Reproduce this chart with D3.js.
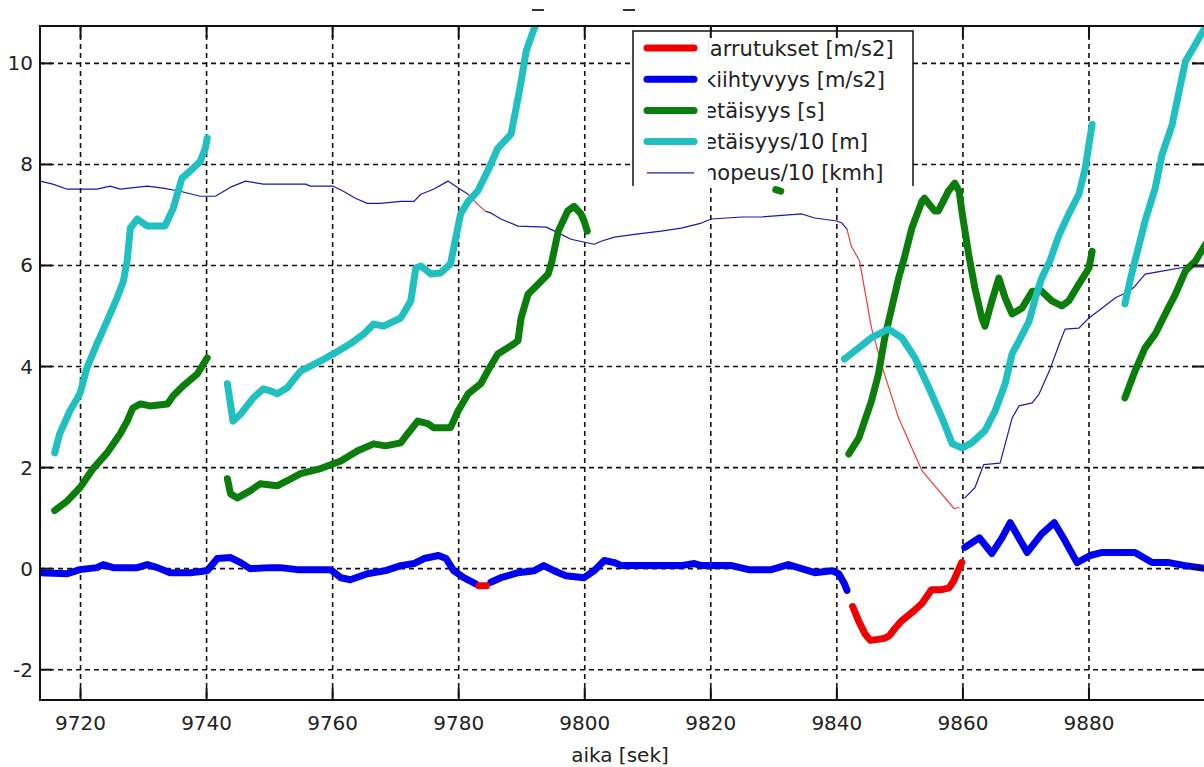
<!DOCTYPE html>
<html>
<head>
  <meta charset="utf-8">
  <title>Jarrutukset ja kiihtyvyys</title>
  <script src="https://d3js.org/d3.v7.min.js"></script>
  <style>
    body { margin: 0; background: #fff; }
    text { font-family: "DejaVu Sans", sans-serif; fill: #222; }
  </style>
</head>
<body>
  <script>
    // tick values
    const xTicks = [9720, 9740, 9760, 9780, 9800, 9820, 9840, 9860, 9880];
    const yTicks = [-2, 0, 2, 4, 6, 8, 10];

    const legendLabels = ['jarrutukset [m/s2]', 'kiihtyvyys [m/s2]', 'etäisyys [s]', 'etäisyys/10 [m]', 'nopeus/10 [kmh]'];

    // jarrutukset [m/s2] (thick red), one array per piece
    const jarrutukset = [
      [[9783.2, -0.34], [9784.4, -0.34]],
      [[9842.5, -0.75], [9843.5, -1.05], [9844.5, -1.3], [9845.3, -1.42], [9846.5, -1.4], [9847.5, -1.38],
       [9848.3, -1.33], [9849.3, -1.17], [9850.3, -1.03], [9852, -0.86], [9853.5, -0.69], [9855, -0.42],
       [9856.5, -0.42], [9857.8, -0.38], [9858.5, -0.25], [9859.2, -0.05], [9859.8, 0.12]]
    ];

    // kiihtyvyys [m/s2] (thick blue)
    const kiihtyvyys = [
      [[9713.6, -0.08], [9717.9, -0.1], [9719.9, -0.02], [9722.6, 0.02], [9723.6, 0.08], [9725.2, 0.02],
       [9729.0, 0.02], [9730.6, 0.08], [9732.2, 0.02], [9734.2, -0.08], [9737.4, -0.08], [9740.1, -0.04],
       [9741.7, 0.2], [9743.8, 0.22], [9745.4, 0.12], [9746.9, 0.0], [9750.1, 0.02], [9751.7, 0.02],
       [9754.4, -0.02], [9759.7, -0.02], [9761.3, -0.18], [9762.8, -0.22], [9765.5, -0.1], [9768.4, -0.04],
       [9770.8, 0.06], [9772.9, 0.1], [9774.5, 0.2], [9776.8, 0.26], [9778.0, 0.2], [9779.2, -0.04],
       [9780.8, -0.18], [9782.7, -0.3]],
      [[9785.1, -0.27], [9786.7, -0.18], [9789.4, -0.08], [9792.0, -0.04], [9793.5, 0.06], [9795.1, -0.04],
       [9797.0, -0.14], [9799.9, -0.18], [9801.5, -0.04], [9803.1, 0.16], [9804.7, 0.12], [9805.8, 0.06],
       [9815.3, 0.06], [9817.4, 0.1], [9818.5, 0.06], [9823.3, 0.06], [9826.0, -0.02], [9829.6, -0.02],
       [9832.3, 0.08], [9834.4, 0.0], [9836.5, -0.08], [9839.2, -0.04], [9840.3, -0.1], [9841.2, -0.3],
       [9841.6, -0.43]],
      [[9860.3, 0.42], [9862.6, 0.61], [9864.6, 0.3], [9866.2, 0.61], [9867.5, 0.91], [9870.2, 0.32],
       [9872.5, 0.69], [9874.5, 0.91], [9876.2, 0.55], [9878.1, 0.12], [9880.2, 0.26], [9882.1, 0.32],
       [9884.2, 0.32], [9887.3, 0.32], [9890.0, 0.12], [9892.7, 0.12], [9895.3, 0.06], [9898.6, 0.0]]
    ];

    // etäisyys [s] (thick green)
    const etaisyys = [
      [[9715.9, 1.15], [9717.9, 1.34], [9719.9, 1.6], [9722.0, 1.98], [9724.2, 2.29], [9726.3, 2.67],
       [9727.4, 2.92], [9728.3, 3.18], [9729.5, 3.26], [9731.0, 3.22], [9733.8, 3.26], [9734.7, 3.42],
       [9736.3, 3.62], [9738.5, 3.85], [9739.5, 4.05], [9740.1, 4.17]],
      [[9743.3, 1.78], [9743.8, 1.48], [9744.9, 1.4], [9746.9, 1.54], [9748.5, 1.68], [9751.2, 1.64],
       [9752.8, 1.74], [9754.9, 1.88], [9758.1, 1.98], [9761.3, 2.13], [9763.9, 2.33], [9766.5, 2.47],
       [9768.4, 2.43], [9770.8, 2.49], [9771.9, 2.67], [9773.5, 2.92], [9775.1, 2.87], [9776.0, 2.79],
       [9778.7, 2.79], [9779.9, 3.12], [9781.5, 3.46], [9783.5, 3.66], [9784.6, 3.91], [9786.2, 4.25],
       [9788.3, 4.41], [9789.4, 4.51], [9789.9, 4.96], [9791.0, 5.43], [9792.6, 5.63], [9794.2, 5.83],
       [9794.8, 6.09], [9795.8, 6.68], [9797.3, 7.08], [9798.3, 7.17], [9799.4, 7.02], [9799.9, 6.88],
       [9800.4, 6.68]],
      [[9830.3, 7.5], [9831.1, 7.47]],
      [[9841.9, 2.27], [9843.5, 2.59], [9844.4, 2.92], [9845.5, 3.32], [9846.6, 3.85], [9847.6, 4.57],
       [9848.7, 5.16], [9849.8, 5.75], [9850.7, 6.15], [9851.9, 6.74], [9853.5, 7.27], [9853.9, 7.33],
       [9855.5, 7.08], [9856.1, 7.08], [9857.7, 7.47], [9858.7, 7.63], [9859.4, 7.47], [9859.9, 7.02],
       [9860.9, 6.23], [9861.9, 5.55], [9863.0, 4.96], [9863.5, 4.8], [9864.6, 5.3], [9865.7, 5.75],
       [9866.7, 5.36], [9867.8, 5.04], [9869.4, 5.16], [9871.0, 5.49], [9872.5, 5.49], [9874.1, 5.3],
       [9875.7, 5.2], [9876.8, 5.3], [9878.4, 5.63], [9880.0, 5.95], [9880.5, 6.28]],
      [[9885.7, 3.38], [9887.3, 3.91], [9888.9, 4.37], [9890.5, 4.64], [9892.1, 5.04], [9893.7, 5.43],
       [9895.3, 5.89], [9896.9, 6.09], [9898.6, 6.44]]
    ];

    // etäisyys/10 [m] (thick cyan)
    const etaisyys10 = [
      [[9715.9, 2.29], [9716.7, 2.67], [9718.3, 3.12], [9719.9, 3.46], [9721.0, 3.97], [9722.6, 4.45],
       [9724.2, 4.9], [9725.8, 5.36], [9726.8, 5.69], [9727.4, 6.09], [9727.9, 6.74], [9729.0, 6.92],
       [9730.6, 6.78], [9733.4, 6.78], [9734.7, 7.13], [9736.1, 7.73], [9737.4, 7.87], [9739.0, 8.06],
       [9739.8, 8.32], [9740.1, 8.52]],
      [[9743.3, 3.66], [9744.2, 2.92], [9745.4, 3.06], [9747.4, 3.38], [9749.0, 3.56], [9750.1, 3.52],
       [9751.2, 3.46], [9752.8, 3.58], [9754.9, 3.91], [9758.1, 4.11], [9760.1, 4.25], [9762.8, 4.45],
       [9764.9, 4.64], [9766.5, 4.84], [9768.1, 4.8], [9770.8, 4.96], [9772.4, 5.3], [9773.2, 5.95],
       [9774.0, 5.99], [9775.6, 5.83], [9777.1, 5.85], [9778.7, 6.03], [9780.3, 7.02], [9781.5, 7.27],
       [9783.0, 7.47], [9784.6, 7.87], [9786.2, 8.32], [9788.3, 8.6], [9789.1, 9.11], [9789.9, 9.64],
       [9790.7, 10.24], [9791.8, 10.63], [9792.5, 10.85]],
      [[9841.2, 4.15], [9843.5, 4.37], [9845.5, 4.57], [9848.2, 4.74], [9850.3, 4.57], [9852.4, 4.17],
       [9854.6, 3.58], [9856.7, 2.98], [9858.3, 2.47], [9859.9, 2.39], [9861.4, 2.49], [9863.5, 2.73],
       [9865.1, 3.12], [9866.7, 3.66], [9867.8, 4.25], [9868.9, 4.51], [9870.5, 4.9], [9871.5, 5.36],
       [9872.5, 5.75], [9873.8, 6.09], [9875.3, 6.62], [9876.8, 7.02], [9878.4, 7.41], [9879.4, 7.92],
       [9880.0, 8.4], [9880.5, 8.79]],
      [[9885.7, 5.24], [9886.5, 5.69], [9887.3, 6.09], [9888.9, 6.88], [9890.5, 7.53], [9891.6, 8.2],
       [9893.2, 8.79], [9894.3, 9.45], [9895.3, 10.04], [9896.9, 10.38], [9898.6, 10.75]]
    ];

    // nopeus/10 [kmh] (thin), blue while driving, red while braking
    const nopeusAjo = [
      [[9713.6, 7.67], [9715.6, 7.61], [9717.9, 7.51], [9720.4, 7.51], [9722.6, 7.51], [9724.7, 7.57],
       [9726.3, 7.51], [9730.6, 7.57], [9733.1, 7.53], [9735.8, 7.47], [9739.0, 7.37], [9741.4, 7.37],
       [9743.8, 7.55], [9746.2, 7.67], [9749.0, 7.61], [9755.7, 7.61], [9756.5, 7.57], [9760.1, 7.57],
       [9761.7, 7.47], [9763.6, 7.33], [9765.5, 7.23], [9767.6, 7.23], [9770.8, 7.27], [9772.9, 7.27],
       [9774.0, 7.41], [9776.0, 7.51], [9778.3, 7.67], [9780.0, 7.53], [9781.5, 7.41]],
      [[9784.3, 7.07], [9785.1, 7.04], [9786.7, 6.92], [9789.4, 6.78], [9793.9, 6.76], [9796.2, 6.62],
       [9797.8, 6.52], [9801.5, 6.42], [9802.6, 6.48], [9804.7, 6.56], [9808.2, 6.62], [9812.1, 6.68],
       [9815.3, 6.74], [9818.5, 6.84], [9820.1, 6.92], [9824.9, 6.96], [9828.0, 6.96], [9834.4, 7.02],
       [9836.5, 6.94], [9840.0, 6.88], [9840.8, 6.84], [9841.6, 6.72]],
      [[9860.3, 1.4], [9861.9, 1.6], [9863.3, 2.06], [9865.9, 2.09], [9867.8, 2.98], [9868.9, 3.22],
       [9871.0, 3.28], [9872.1, 3.46], [9873.7, 3.91], [9875.3, 4.45], [9876.2, 4.74], [9878.4, 4.76],
       [9880.0, 4.96], [9882.1, 5.16], [9884.2, 5.36], [9886.4, 5.49], [9887.3, 5.59], [9888.9, 5.83],
       [9891.6, 5.89], [9895.3, 5.97], [9898.6, 5.97]]
    ];
    const nopeusJarru = [
      [[9781.5, 7.41], [9783.0, 7.21], [9784.3, 7.07]],
      [[9841.6, 6.72], [9842.3, 6.38], [9843.6, 6.09], [9845.5, 4.76], [9847.4, 3.91], [9849.8, 2.98],
       [9851.9, 2.39], [9853.5, 1.94], [9856.2, 1.54], [9858.6, 1.19], [9859.4, 1.21]]
    ];

    const width = 1204;
    const height = 767;

    const svg = d3.select('body').append('svg')
      .attr('width', width)
      .attr('height', height);

    svg.append('rect').attr('width', width).attr('height', height).attr('fill', '#fff');

    const x = d3.scaleLinear().domain([9713.57, 9898.41]).range([40, 1205]);
    const y = d3.scaleLinear().domain([-2.60, 10.74]).range([700, 26]);

    svg.append('clipPath').attr('id', 'plotArea')
      .append('rect')
      .attr('x', 40).attr('y', 26)
      .attr('width', 1165).attr('height', 674);

    // grid
    const grid = svg.append('g').attr('stroke', '#111').attr('stroke-width', 1.6)
      .attr('stroke-dasharray', '5,4');
    grid.selectAll('.vgrid').data(xTicks).enter().append('line')
      .attr('x1', d => x(d)).attr('x2', d => x(d))
      .attr('y1', 26).attr('y2', 700);
    grid.selectAll('.hgrid').data(yTicks).enter().append('line')
      .attr('x1', 40).attr('x2', 1205)
      .attr('y1', d => y(d)).attr('y2', d => y(d));

    const line = d3.line().x(d => x(d[0])).y(d => y(d[1]));
    const plot = svg.append('g').attr('clip-path', 'url(#plotArea)');

    function drawSeries(segments, color, w, dash) {
      plot.append('g').selectAll('path').data(segments).enter().append('path')
        .attr('d', line)
        .attr('fill', 'none')
        .attr('stroke', color)
        .attr('stroke-width', w)
        .attr('stroke-linejoin', 'round')
        .attr('stroke-linecap', 'round')
        .attr('stroke-dasharray', dash || null);
    }

    drawSeries(nopeusAjo, '#1a1aa8', 1.2);
    drawSeries(nopeusJarru, '#f03c3c', 1.2);
    drawSeries(kiihtyvyys, '#0000f0', 7);
    drawSeries(jarrutukset, '#f00000', 7);
    drawSeries(etaisyys, '#0a7d0a', 7);
    drawSeries(etaisyys10, '#20c0c0', 7);

    // legend (its bottom edge falls outside the picture)
    const legendColors = ['#f00000', '#0000f0', '#0a7d0a', '#20c0c0', '#1a1aa8'];
    const legendWidths = [7, 7, 7, 7, 1.2];
    const rowY = (d, i) => 48 + i * 31.2;
    const legend = svg.append('g');
    legend.append('rect')
      .attr('x', 633).attr('y', 31).attr('width', 280).attr('height', 155)
      .attr('fill', '#fff');
    legend.append('path')
      .attr('d', 'M633,186V31H913V186')
      .attr('fill', 'none').attr('stroke', '#111').attr('stroke-width', 1.5);
    svg.append('clipPath').attr('id', 'legendText')
      .append('rect').attr('x', 708).attr('y', 31).attr('width', 205).attr('height', 155);
    legend.selectAll('.lline').data(legendLabels).enter().append('line')
      .attr('x1', 647).attr('x2', 694)
      .attr('y1', rowY).attr('y2', rowY)
      .attr('stroke', (d, i) => legendColors[i])
      .attr('stroke-width', (d, i) => legendWidths[i])
      .attr('stroke-linecap', (d, i) => i < 4 ? 'round' : 'butt');
    legend.append('g').attr('clip-path', 'url(#legendText)')
      .selectAll('text').data(legendLabels).enter().append('text')
      .attr('x', 704).attr('y', (d, i) => rowY(d, i) + 7.5)
      .style('font-size', '21px')
      .text(d => d);

    // axes frame and inward ticks
    const frame = svg.append('g').attr('stroke', '#111').attr('stroke-width', 2);
    frame.append('rect')
      .attr('x', 40).attr('y', 26).attr('width', 1165).attr('height', 674)
      .attr('fill', 'none');
    frame.selectAll('.tb').data(xTicks).enter().append('line')
      .attr('x1', d => x(d)).attr('x2', d => x(d)).attr('y1', 700).attr('y2', 688);
    frame.selectAll('.tt').data(xTicks).enter().append('line')
      .attr('x1', d => x(d)).attr('x2', d => x(d)).attr('y1', 26).attr('y2', 38);
    frame.selectAll('.tl').data(yTicks).enter().append('line')
      .attr('x1', 40).attr('x2', 52).attr('y1', d => y(d)).attr('y2', d => y(d));
    frame.selectAll('.tr').data(yTicks).enter().append('line')
      .attr('x1', 1192).attr('x2', 1205).attr('y1', d => y(d)).attr('y2', d => y(d));

    // tick labels
    svg.append('g').selectAll('text').data(xTicks).enter().append('text')
      .attr('x', d => x(d)).attr('y', 730)
      .attr('text-anchor', 'middle')
      .style('font-size', '20px')
      .text(d => d);
    svg.append('g').selectAll('text').data(yTicks).enter().append('text')
      .attr('x', 33).attr('y', d => y(d) + 7)
      .attr('text-anchor', 'end')
      .style('font-size', '20px')
      .text(d => d);

    // axis label
    svg.append('text')
      .attr('x', 620).attr('y', 762)
      .attr('text-anchor', 'middle')
      .style('font-size', '20px')
      .text('aika [sek]');

    // bottom strokes of the title, which is cut off above the picture
    svg.append('g').attr('stroke', '#333').attr('stroke-width', 2)
      .selectAll('line').data([538, 629]).enter().append('line')
      .attr('x1', d => d - 6).attr('x2', d => d + 6)
      .attr('y1', 10).attr('y2', 10);
  </script>
</body>
</html>
